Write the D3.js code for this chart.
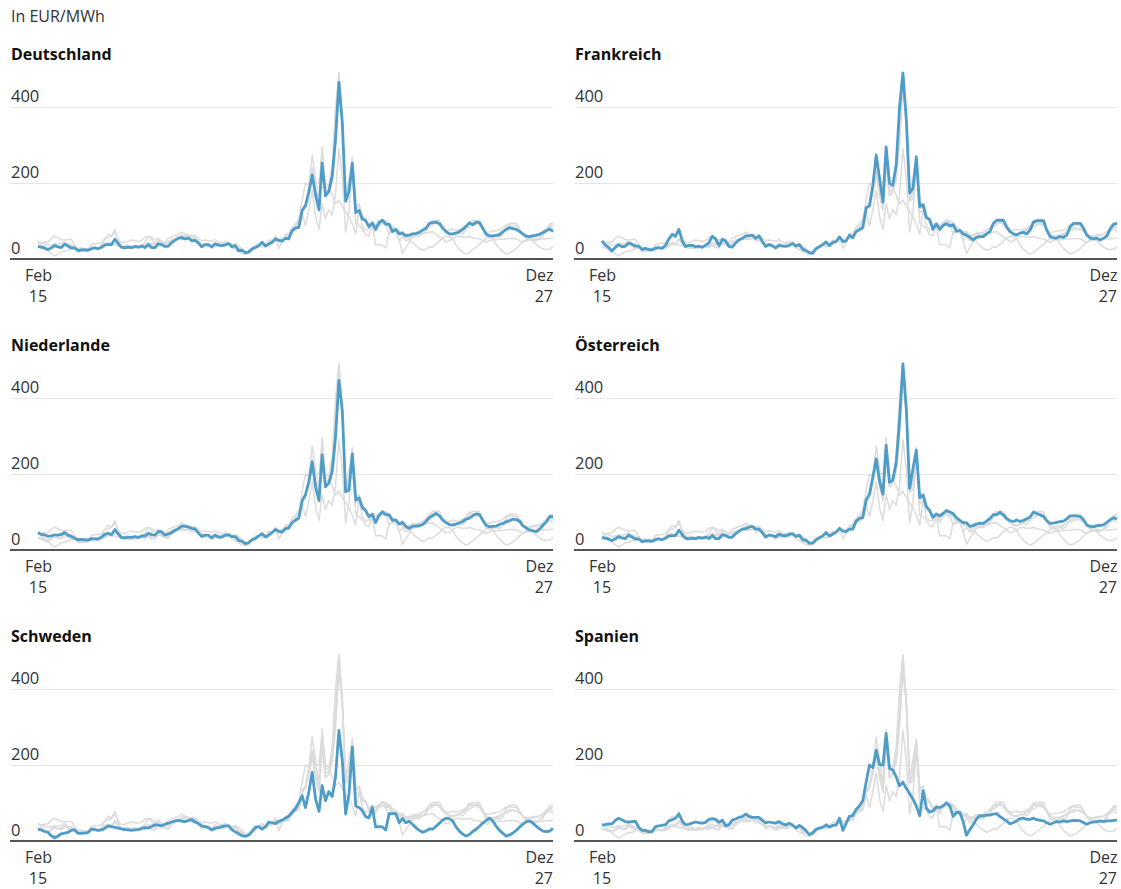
<!DOCTYPE html>
<html><head><meta charset="utf-8">
<script src="https://cdn.jsdelivr.net/npm/d3@7"></script>
<style>
body{margin:0;background:#fff;}
svg{font-family:"Open Sans",sans-serif;}
</style></head><body>
<svg id="c" width="1121" height="889"></svg>
<script>
// Monthly prices, Feb 2015 - Dec 2027, EUR/MWh
const countries = ["Deutschland","Frankreich","Niederlande","Österreich","Schweden","Spanien"];
const deutschland = [33,31,29,25,29,35,32,30,39,34,29,
 29,22,24,24,23,27,29,27,31,37,38,38,
 52,40,31,29,31,30,33,31,34,30,38,30,
 30,40,38,33,34,43,49,55,56,53,55,48,
 49,42,32,38,38,32,40,37,35,37,41,32,
 35,22,23,17,18,26,30,35,44,34,39,44,
 53,49,47,54,53,74,82,83,128,140,176,221,
 168,129,252,166,178,218,315,465,357,152,179,252,
 122,128,106,101,85,95,78,96,102,92,91,72,
 78,66,68,61,63,66,67,70,76,81,94,96,
 97,93,82,72,66,66,68,72,78,86,95,90,
 97,96,82,66,61,61,62,64,72,78,83,80,
 78,72,66,60,59,61,62,65,70,74,79,72];
const frankreich = [48,37,31,21,30,38,32,34,42,39,34,
 34,25,28,25,24,28,30,28,36,53,65,60,
 78,47,33,36,36,32,34,31,36,43,60,52,
 35,52,48,33,31,42,50,54,61,61,63,54,
 61,45,33,38,34,29,36,34,33,35,41,34,
 38,26,22,17,15,27,32,38,45,35,44,46,
 58,46,47,63,56,72,77,82,135,140,195,274,
 211,150,295,199,194,248,398,490,367,174,186,269,
 138,143,110,104,78,92,78,88,93,87,90,73,
 75,66,63,57,50,57,59,59,66,72,94,102,
 102,102,85,72,66,63,68,70,66,76,97,101,
 101,101,76,59,55,55,59,57,63,85,94,94,
 94,80,63,55,53,55,50,55,61,80,92,94];
const niederlande = [46,41,40,36,37,40,39,41,46,39,36,
 31,27,28,27,26,30,29,29,34,41,44,40,
 54,42,33,32,34,33,35,33,37,37,44,40,
 39,49,48,39,42,46,52,56,63,63,60,57,
 55,45,36,39,39,32,39,34,34,39,40,35,
 35,25,23,17,19,27,30,37,43,34,39,46,
 54,49,47,56,58,72,78,84,129,146,179,232,
 165,130,250,166,176,207,296,446,366,153,158,253,
 131,137,113,104,88,94,72,91,100,94,92,78,
 79,68,73,62,57,63,63,64,67,75,85,90,
 96,90,79,72,67,66,68,71,75,81,84,90,
 95,93,79,65,61,62,63,67,70,74,77,81,
 80,76,64,58,53,50,48,55,65,74,88,88];
const oesterreich = [33,31,29,25,29,35,32,30,39,34,29,
 29,22,24,24,23,27,29,27,31,37,38,38,
 52,40,31,29,31,30,33,31,34,30,38,30,
 30,40,38,33,34,43,49,55,56,60,62,55,
 55,45,34,40,38,35,42,38,38,41,43,36,
 39,27,26,18,18,27,32,37,46,37,42,47,
 57,50,48,55,55,76,83,85,132,147,193,240,
 180,147,275,178,184,230,340,490,372,162,215,263,
 138,145,115,104,86,95,90,96,104,100,96,85,
 78,72,72,62,64,69,70,70,76,83,93,93,
 99,92,83,77,75,79,75,78,82,87,100,96,
 92,88,77,70,71,73,75,76,82,90,90,89,
 88,79,66,62,61,64,65,66,73,80,85,81];
const schweden = [31,29,25,23,14,8,13,19,21,23,28,
 29,20,20,21,22,32,30,28,29,33,40,38,
 36,34,32,30,29,28,29,30,33,35,34,38,
 43,42,40,44,47,50,53,54,52,51,54,56,
 50,46,40,38,35,29,33,35,38,40,40,30,
 24,19,14,12,15,24,36,38,31,38,50,48,
 46,52,55,60,65,75,85,100,119,88,130,181,
 110,78,146,106,130,117,168,291,212,71,124,247,
 92,88,80,64,61,88,37,38,37,29,72,72,
 72,48,59,48,52,44,35,28,23,26,32,31,
 39,47,55,60,59,53,37,26,18,13,17,25,
 31,39,47,54,60,53,39,28,20,13,16,21,
 28,37,44,51,53,47,39,32,26,25,26,33];
const spanien = [42,43,45,45,54,60,56,51,50,51,52,
 36,28,28,24,25,38,40,41,43,53,56,60,
 71,52,43,44,47,50,48,47,49,57,59,57,
 49,55,40,43,55,58,62,64,71,65,62,62,
 62,54,48,50,48,47,51,45,42,47,42,34,
 41,35,28,17,21,31,34,36,42,37,41,42,
 60,28,45,65,67,83,92,106,156,200,193,239,
 201,200,283,191,187,169,145,155,138,125,110,92,
 66,132,88,76,79,89,88,92,100,93,65,75,
 75,50,15,30,43,58,67,66,68,68,71,72,
 64,58,53,45,48,53,59,60,57,57,60,56,
 54,53,48,44,48,51,50,53,51,53,54,54,
 53,48,44,48,50,51,53,51,53,53,54,55];
const yTicks = [0, 200, 400];
const xTickMonths = ["Feb","Dez"];
const xTickYears = ["15","27"];
const unitLabel = "In EUR/MWh";
const firstMonth = new Date(2015, 1, 1);
const lastMonth = new Date(2027, 11, 1);

const series = [deutschland, frankreich, niederlande, oesterreich, schweden, spanien];
const months = d3.timeMonth.range(firstMonth, d3.timeMonth.offset(lastMonth, 1));

const svg = d3.select("#c");
svg.append("text").attr("x", 11).attr("y", 22)
  .attr("font-size", 16).attr("fill", "#333").text(unitLabel);

const colX = [11, 575];
const panelW = 542;
const plotOff = 27;
const rowH = 291;
const BLUE = "#4e9cc8";
const GREY = "#dcdcdc";
const TICKFS = 16.5;
const XFS = 16;

countries.forEach((name, k) => {
  const ox = colX[k % 2];
  const oy = Math.floor(k / 2) * rowH;
  const g = svg.append("g");
  const x = d3.scaleTime().domain([firstMonth, lastMonth]).range([ox + plotOff, ox + panelW]);
  const y = d3.scaleLinear().domain([0, 400]).range([oy + 259, oy + 107]);

  g.append("text").attr("x", ox).attr("y", oy + 60)
    .attr("font-size", 16).attr("font-weight", 700).attr("fill", "#111").text(name);

  // y axis with gridlines
  const ya = g.append("g").attr("transform", `translate(${ox},0)`)
    .call(d3.axisRight(y).tickValues(yTicks).tickSize(panelW).tickFormat(d3.format("d")));
  ya.select(".domain").remove();
  ya.selectAll(".tick line").attr("stroke", "#e6e6e6").attr("stroke-width", 1)
    .filter(d => d === 0).remove();
  ya.selectAll(".tick text").attr("x", 0).attr("dy", 0).attr("y", -6)
    .attr("text-anchor", "start").attr("font-size", TICKFS).attr("fill", "#333")
    .attr("font-family", "Open Sans");

  const line = d3.line().x((d, i) => x(months[i])).y(d => y(d));

  series.forEach((s, j) => {
    if (j === k) return;
    g.append("path").datum(s).attr("d", line).attr("fill", "none")
      .attr("stroke", GREY).attr("stroke-width", 1.5).attr("stroke-linejoin", "round");
  });
  g.append("path").datum(series[k]).attr("d", line).attr("fill", "none")
    .attr("stroke", BLUE).attr("stroke-width", 2.8).attr("stroke-linejoin", "round");

  // baseline
  g.append("line").attr("x1", ox - 1).attr("x2", ox + panelW).attr("y1", y(0)).attr("y2", y(0))
    .attr("stroke", "#555").attr("stroke-width", 2);

  // x axis: month line via d3 axis, year line as separate text
  const ticks = [firstMonth, lastMonth];
  const xa = g.append("g").attr("transform", `translate(0,${y(0)})`)
    .call(d3.axisBottom(x).tickValues(ticks).tickSize(0).tickFormat((d, i) => xTickMonths[i]));
  xa.select(".domain").remove();
  xa.selectAll(".tick text")
    .attr("y", 22).attr("dy", 0)
    .attr("font-size", XFS).attr("fill", "#333").attr("font-family", "Open Sans")
    .attr("text-anchor", (d, i) => i === 0 ? "middle" : "end");
  ticks.forEach((d, i) => {
    g.append("text").attr("x", x(d)).attr("y", y(0) + 43)
      .attr("font-size", XFS).attr("fill", "#333")
      .attr("text-anchor", i === 0 ? "middle" : "end").text(xTickYears[i]);
  });
});
</script>
</body></html>
